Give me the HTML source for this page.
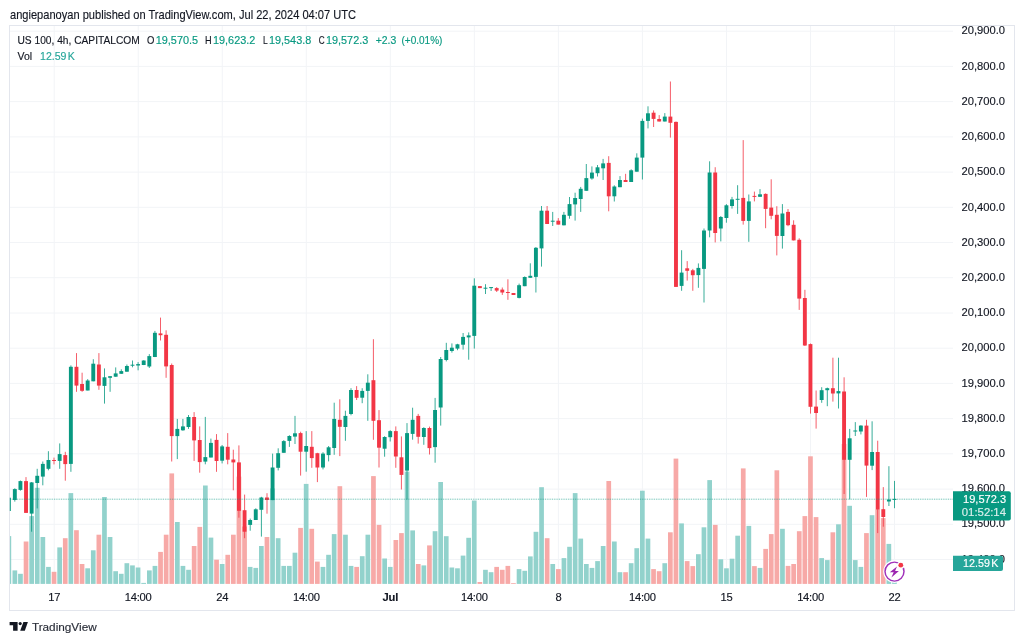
<!DOCTYPE html>
<html lang="en"><head><meta charset="utf-8"><title>US 100 4h chart - TradingView</title>
<style>html,body{margin:0;padding:0;background:#fff}body{width:1024px;height:643px;overflow:hidden}svg{display:block}text{font-family:"Liberation Sans",sans-serif;color:#131722;fill:currentColor;stroke:currentColor;stroke-width:.15px}.ax{font-size:10.8px}.tm{font-size:11.2px;text-anchor:middle;letter-spacing:-0.25px}.g{color:#089981}.w{color:#fff}.v{color:#26a69a}</style></head><body>
<svg width="1024" height="643" viewBox="0 0 1024 643">
<rect width="1024" height="643" fill="#fff"/>
<text x="10" y="19.1" font-size="12.6px" textLength="346" lengthAdjust="spacingAndGlyphs">angiepanoyan published on TradingView.com, Jul 22, 2024 04:07 UTC</text>
<g stroke="#f2f4f7" stroke-width="1">
<line x1="10" x2="953" y1="31.2" y2="31.2"/>
<line x1="10" x2="953" y1="66.4" y2="66.4"/>
<line x1="10" x2="953" y1="101.6" y2="101.6"/>
<line x1="10" x2="953" y1="136.9" y2="136.9"/>
<line x1="10" x2="953" y1="172.1" y2="172.1"/>
<line x1="10" x2="953" y1="207.3" y2="207.3"/>
<line x1="10" x2="953" y1="242.5" y2="242.5"/>
<line x1="10" x2="953" y1="277.7" y2="277.7"/>
<line x1="10" x2="953" y1="313.0" y2="313.0"/>
<line x1="10" x2="953" y1="348.2" y2="348.2"/>
<line x1="10" x2="953" y1="383.4" y2="383.4"/>
<line x1="10" x2="953" y1="418.6" y2="418.6"/>
<line x1="10" x2="953" y1="453.8" y2="453.8"/>
<line x1="10" x2="953" y1="489.1" y2="489.1"/>
<line x1="10" x2="953" y1="524.3" y2="524.3"/>
<line x1="10" x2="953" y1="559.5" y2="559.5"/>
<line x1="54.20" x2="54.20" y1="26" y2="584"/>
<line x1="138.23" x2="138.23" y1="26" y2="584"/>
<line x1="222.26" x2="222.26" y1="26" y2="584"/>
<line x1="306.29" x2="306.29" y1="26" y2="584"/>
<line x1="390.32" x2="390.32" y1="26" y2="584"/>
<line x1="474.35" x2="474.35" y1="26" y2="584"/>
<line x1="558.38" x2="558.38" y1="26" y2="584"/>
<line x1="642.41" x2="642.41" y1="26" y2="584"/>
<line x1="726.44" x2="726.44" y1="26" y2="584"/>
<line x1="810.47" x2="810.47" y1="26" y2="584"/>
<line x1="894.50" x2="894.50" y1="26" y2="584"/>
</g>
<rect x="9.5" y="25.5" width="1005" height="585" fill="none" stroke="#e3e6ed" stroke-width="1"/>
<g>
<rect x="10" y="536.1" width="1.2" height="47.8" fill="#92d2cc"/>
<rect x="12.5" y="570.4" width="4.7" height="13.5" fill="#92d2cc"/>
<rect x="18.1" y="573.8" width="4.7" height="10.1" fill="#92d2cc"/>
<rect x="23.7" y="541.5" width="4.7" height="42.4" fill="#f7a9a7"/>
<rect x="29.3" y="516.1" width="4.7" height="67.8" fill="#92d2cc"/>
<rect x="34.9" y="487.8" width="4.7" height="96.1" fill="#92d2cc"/>
<rect x="40.5" y="537.0" width="4.7" height="46.9" fill="#92d2cc"/>
<rect x="46.1" y="566.9" width="4.7" height="17.0" fill="#92d2cc"/>
<rect x="51.7" y="571.8" width="4.7" height="12.1" fill="#f7a9a7"/>
<rect x="57.3" y="547.4" width="4.7" height="36.5" fill="#92d2cc"/>
<rect x="62.9" y="538.2" width="4.7" height="45.7" fill="#f7a9a7"/>
<rect x="68.5" y="493.1" width="4.7" height="90.8" fill="#92d2cc"/>
<rect x="74.1" y="530.2" width="4.7" height="53.7" fill="#f7a9a7"/>
<rect x="79.7" y="564.0" width="4.7" height="19.9" fill="#f7a9a7"/>
<rect x="85.3" y="568.3" width="4.7" height="15.6" fill="#92d2cc"/>
<rect x="90.9" y="550.3" width="4.7" height="33.6" fill="#92d2cc"/>
<rect x="96.5" y="534.7" width="4.7" height="49.2" fill="#f7a9a7"/>
<rect x="102.1" y="497.0" width="4.7" height="86.9" fill="#92d2cc"/>
<rect x="107.7" y="537.0" width="4.7" height="46.9" fill="#92d2cc"/>
<rect x="113.3" y="571.2" width="4.7" height="12.7" fill="#92d2cc"/>
<rect x="118.9" y="573.8" width="4.7" height="10.1" fill="#92d2cc"/>
<rect x="124.5" y="563.2" width="4.7" height="20.7" fill="#92d2cc"/>
<rect x="130.1" y="565.4" width="4.7" height="18.5" fill="#92d2cc"/>
<rect x="135.7" y="567.5" width="4.7" height="16.4" fill="#92d2cc"/>
<rect x="141.3" y="582.9" width="4.7" height="1.0" fill="#92d2cc"/>
<rect x="147.0" y="570.4" width="4.7" height="13.5" fill="#92d2cc"/>
<rect x="152.6" y="565.9" width="4.7" height="18.0" fill="#92d2cc"/>
<rect x="158.2" y="551.9" width="4.7" height="32.0" fill="#f7a9a7"/>
<rect x="163.8" y="534.7" width="4.7" height="49.2" fill="#f7a9a7"/>
<rect x="169.4" y="473.4" width="4.7" height="110.5" fill="#f7a9a7"/>
<rect x="175.0" y="522.0" width="4.7" height="61.9" fill="#92d2cc"/>
<rect x="180.6" y="565.9" width="4.7" height="18.0" fill="#92d2cc"/>
<rect x="186.2" y="569.8" width="4.7" height="14.1" fill="#92d2cc"/>
<rect x="191.8" y="546.0" width="4.7" height="37.9" fill="#f7a9a7"/>
<rect x="197.4" y="526.9" width="4.7" height="57.0" fill="#f7a9a7"/>
<rect x="203.0" y="485.5" width="4.7" height="98.4" fill="#92d2cc"/>
<rect x="208.6" y="537.6" width="4.7" height="46.3" fill="#92d2cc"/>
<rect x="214.2" y="559.7" width="4.7" height="24.2" fill="#f7a9a7"/>
<rect x="219.8" y="564.0" width="4.7" height="19.9" fill="#92d2cc"/>
<rect x="225.4" y="554.8" width="4.7" height="29.1" fill="#f7a9a7"/>
<rect x="231.0" y="534.7" width="4.7" height="49.2" fill="#f7a9a7"/>
<rect x="236.6" y="476.6" width="4.7" height="107.3" fill="#f7a9a7"/>
<rect x="242.2" y="526.5" width="4.7" height="57.4" fill="#f7a9a7"/>
<rect x="247.8" y="566.9" width="4.7" height="17.0" fill="#92d2cc"/>
<rect x="253.4" y="567.9" width="4.7" height="16.0" fill="#92d2cc"/>
<rect x="259.0" y="546.0" width="4.7" height="37.9" fill="#92d2cc"/>
<rect x="264.6" y="537.0" width="4.7" height="46.9" fill="#f7a9a7"/>
<rect x="270.2" y="488.4" width="4.7" height="95.5" fill="#92d2cc"/>
<rect x="275.8" y="538.2" width="4.7" height="45.7" fill="#92d2cc"/>
<rect x="281.4" y="565.9" width="4.7" height="18.0" fill="#92d2cc"/>
<rect x="287.0" y="565.9" width="4.7" height="18.0" fill="#92d2cc"/>
<rect x="292.6" y="552.7" width="4.7" height="31.2" fill="#92d2cc"/>
<rect x="298.2" y="527.9" width="4.7" height="56.0" fill="#f7a9a7"/>
<rect x="303.8" y="483.9" width="4.7" height="100.0" fill="#92d2cc"/>
<rect x="309.4" y="528.8" width="4.7" height="55.1" fill="#f7a9a7"/>
<rect x="315.0" y="561.6" width="4.7" height="22.3" fill="#f7a9a7"/>
<rect x="320.6" y="566.9" width="4.7" height="17.0" fill="#92d2cc"/>
<rect x="326.2" y="554.8" width="4.7" height="29.1" fill="#92d2cc"/>
<rect x="331.8" y="534.1" width="4.7" height="49.8" fill="#92d2cc"/>
<rect x="337.5" y="486.2" width="4.7" height="97.6" fill="#f7a9a7"/>
<rect x="343.1" y="534.7" width="4.7" height="49.2" fill="#92d2cc"/>
<rect x="348.7" y="565.9" width="4.7" height="18.0" fill="#92d2cc"/>
<rect x="354.3" y="566.9" width="4.7" height="17.0" fill="#f7a9a7"/>
<rect x="359.9" y="556.2" width="4.7" height="27.7" fill="#92d2cc"/>
<rect x="365.5" y="534.7" width="4.7" height="49.2" fill="#92d2cc"/>
<rect x="371.1" y="476.1" width="4.7" height="107.8" fill="#f7a9a7"/>
<rect x="376.7" y="524.9" width="4.7" height="59.0" fill="#f7a9a7"/>
<rect x="382.3" y="558.5" width="4.7" height="25.4" fill="#92d2cc"/>
<rect x="387.9" y="566.9" width="4.7" height="17.0" fill="#92d2cc"/>
<rect x="393.5" y="540.0" width="4.7" height="43.9" fill="#f7a9a7"/>
<rect x="399.1" y="533.1" width="4.7" height="50.8" fill="#f7a9a7"/>
<rect x="404.7" y="471.6" width="4.7" height="112.3" fill="#92d2cc"/>
<rect x="410.3" y="530.4" width="4.7" height="53.5" fill="#92d2cc"/>
<rect x="415.9" y="564.0" width="4.7" height="19.9" fill="#f7a9a7"/>
<rect x="421.5" y="565.4" width="4.7" height="18.5" fill="#92d2cc"/>
<rect x="427.1" y="545.4" width="4.7" height="38.5" fill="#f7a9a7"/>
<rect x="432.7" y="531.2" width="4.7" height="52.7" fill="#92d2cc"/>
<rect x="438.3" y="482.0" width="4.7" height="101.9" fill="#92d2cc"/>
<rect x="443.9" y="536.2" width="4.7" height="47.6" fill="#92d2cc"/>
<rect x="449.5" y="567.5" width="4.7" height="16.4" fill="#92d2cc"/>
<rect x="455.1" y="568.3" width="4.7" height="15.6" fill="#92d2cc"/>
<rect x="460.7" y="555.6" width="4.7" height="28.3" fill="#92d2cc"/>
<rect x="466.3" y="537.8" width="4.7" height="46.1" fill="#92d2cc"/>
<rect x="471.9" y="500.5" width="4.7" height="83.4" fill="#92d2cc"/>
<rect x="477.5" y="582.0" width="4.7" height="1.9" fill="#f7a9a7"/>
<rect x="483.1" y="569.8" width="4.7" height="14.1" fill="#92d2cc"/>
<rect x="488.7" y="572.2" width="4.7" height="11.7" fill="#92d2cc"/>
<rect x="494.3" y="566.9" width="4.7" height="17.0" fill="#f7a9a7"/>
<rect x="499.9" y="569.8" width="4.7" height="14.1" fill="#f7a9a7"/>
<rect x="505.5" y="565.9" width="4.7" height="18.0" fill="#f7a9a7"/>
<rect x="511.1" y="583.1" width="4.7" height="0.8" fill="#f7a9a7"/>
<rect x="516.7" y="569.1" width="4.7" height="14.8" fill="#92d2cc"/>
<rect x="522.4" y="570.8" width="4.7" height="13.1" fill="#92d2cc"/>
<rect x="528.0" y="556.4" width="4.7" height="27.5" fill="#92d2cc"/>
<rect x="533.6" y="531.8" width="4.7" height="52.1" fill="#92d2cc"/>
<rect x="539.2" y="487.2" width="4.7" height="96.7" fill="#92d2cc"/>
<rect x="544.8" y="538.2" width="4.7" height="45.7" fill="#f7a9a7"/>
<rect x="550.4" y="564.0" width="4.7" height="19.9" fill="#92d2cc"/>
<rect x="556.0" y="569.1" width="4.7" height="14.8" fill="#f7a9a7"/>
<rect x="561.6" y="558.1" width="4.7" height="25.8" fill="#92d2cc"/>
<rect x="567.2" y="546.8" width="4.7" height="37.1" fill="#92d2cc"/>
<rect x="572.8" y="493.1" width="4.7" height="90.8" fill="#92d2cc"/>
<rect x="578.4" y="538.6" width="4.7" height="45.3" fill="#92d2cc"/>
<rect x="584.0" y="564.0" width="4.7" height="19.9" fill="#92d2cc"/>
<rect x="589.6" y="567.9" width="4.7" height="16.0" fill="#92d2cc"/>
<rect x="595.2" y="561.1" width="4.7" height="22.8" fill="#92d2cc"/>
<rect x="600.8" y="546.0" width="4.7" height="37.9" fill="#92d2cc"/>
<rect x="606.4" y="481.0" width="4.7" height="102.9" fill="#f7a9a7"/>
<rect x="612.0" y="541.5" width="4.7" height="42.4" fill="#92d2cc"/>
<rect x="617.6" y="572.2" width="4.7" height="11.7" fill="#92d2cc"/>
<rect x="623.2" y="572.2" width="4.7" height="11.7" fill="#f7a9a7"/>
<rect x="628.8" y="563.2" width="4.7" height="20.7" fill="#92d2cc"/>
<rect x="634.4" y="548.2" width="4.7" height="35.7" fill="#92d2cc"/>
<rect x="640.0" y="490.7" width="4.7" height="93.2" fill="#92d2cc"/>
<rect x="645.6" y="538.6" width="4.7" height="45.3" fill="#92d2cc"/>
<rect x="651.2" y="569.1" width="4.7" height="14.8" fill="#f7a9a7"/>
<rect x="656.8" y="571.2" width="4.7" height="12.7" fill="#f7a9a7"/>
<rect x="662.4" y="563.2" width="4.7" height="20.7" fill="#92d2cc"/>
<rect x="668.0" y="532.3" width="4.7" height="51.6" fill="#f7a9a7"/>
<rect x="673.6" y="458.6" width="4.7" height="125.3" fill="#f7a9a7"/>
<rect x="679.2" y="523.4" width="4.7" height="60.5" fill="#92d2cc"/>
<rect x="684.8" y="561.1" width="4.7" height="22.8" fill="#f7a9a7"/>
<rect x="690.4" y="566.1" width="4.7" height="17.8" fill="#f7a9a7"/>
<rect x="696.0" y="554.2" width="4.7" height="29.7" fill="#92d2cc"/>
<rect x="701.6" y="527.3" width="4.7" height="56.6" fill="#92d2cc"/>
<rect x="707.3" y="480.1" width="4.7" height="103.8" fill="#92d2cc"/>
<rect x="712.9" y="524.9" width="4.7" height="59.0" fill="#f7a9a7"/>
<rect x="718.5" y="559.3" width="4.7" height="24.6" fill="#92d2cc"/>
<rect x="724.1" y="568.3" width="4.7" height="15.6" fill="#92d2cc"/>
<rect x="729.7" y="558.7" width="4.7" height="25.2" fill="#92d2cc"/>
<rect x="735.3" y="535.7" width="4.7" height="48.2" fill="#92d2cc"/>
<rect x="740.9" y="468.4" width="4.7" height="115.5" fill="#f7a9a7"/>
<rect x="746.5" y="525.9" width="4.7" height="58.0" fill="#92d2cc"/>
<rect x="752.1" y="566.1" width="4.7" height="17.8" fill="#f7a9a7"/>
<rect x="757.7" y="567.9" width="4.7" height="16.0" fill="#92d2cc"/>
<rect x="763.3" y="548.9" width="4.7" height="35.0" fill="#f7a9a7"/>
<rect x="768.9" y="534.1" width="4.7" height="49.8" fill="#f7a9a7"/>
<rect x="774.5" y="470.3" width="4.7" height="113.6" fill="#f7a9a7"/>
<rect x="780.1" y="528.8" width="4.7" height="55.1" fill="#92d2cc"/>
<rect x="785.7" y="565.9" width="4.7" height="18.0" fill="#f7a9a7"/>
<rect x="791.3" y="564.0" width="4.7" height="19.9" fill="#f7a9a7"/>
<rect x="796.9" y="531.2" width="4.7" height="52.7" fill="#f7a9a7"/>
<rect x="802.5" y="516.1" width="4.7" height="67.8" fill="#f7a9a7"/>
<rect x="808.1" y="456.3" width="4.7" height="127.6" fill="#f7a9a7"/>
<rect x="813.7" y="517.1" width="4.7" height="66.8" fill="#f7a9a7"/>
<rect x="819.3" y="558.1" width="4.7" height="25.8" fill="#92d2cc"/>
<rect x="824.9" y="560.1" width="4.7" height="23.8" fill="#92d2cc"/>
<rect x="830.5" y="532.3" width="4.7" height="51.6" fill="#f7a9a7"/>
<rect x="836.1" y="524.3" width="4.7" height="59.6" fill="#92d2cc"/>
<rect x="841.7" y="444.0" width="4.7" height="139.9" fill="#f7a9a7"/>
<rect x="847.3" y="505.8" width="4.7" height="78.1" fill="#92d2cc"/>
<rect x="852.9" y="560.1" width="4.7" height="23.8" fill="#92d2cc"/>
<rect x="858.5" y="566.9" width="4.7" height="17.0" fill="#92d2cc"/>
<rect x="864.1" y="533.1" width="4.7" height="50.8" fill="#f7a9a7"/>
<rect x="869.7" y="515.2" width="4.7" height="68.7" fill="#92d2cc"/>
<rect x="875.3" y="509.5" width="4.7" height="74.4" fill="#f7a9a7"/>
<rect x="880.9" y="518.1" width="4.7" height="65.8" fill="#f7a9a7"/>
<rect x="886.5" y="543.9" width="4.7" height="40.0" fill="#92d2cc"/>
<rect x="892.1" y="581.6" width="4.7" height="2.3" fill="#92d2cc"/>
</g>
<g>
<rect x="9.8" y="497.7" width="1" height="13.3" fill="#089981"/>
<rect x="14.3" y="488.3" width="1" height="13.3" fill="#089981" opacity="0.8"/>
<rect x="12.88" y="489.1" width="3.9" height="10.9" fill="#089981"/>
<rect x="19.9" y="480.5" width="1" height="10.2" fill="#089981" opacity="0.8"/>
<rect x="18.48" y="481.1" width="3.9" height="8.8" fill="#089981"/>
<rect x="25.5" y="477.1" width="1" height="35.7" fill="#f23645" opacity="0.8"/>
<rect x="24.08" y="481.1" width="3.9" height="31.8" fill="#f23645"/>
<rect x="31.1" y="482.0" width="1" height="49.7" fill="#089981" opacity="0.8"/>
<rect x="29.69" y="482.4" width="3.9" height="31.2" fill="#089981"/>
<rect x="36.7" y="468.8" width="1" height="39.6" fill="#089981" opacity="0.8"/>
<rect x="35.29" y="475.8" width="3.9" height="7.2" fill="#089981"/>
<rect x="42.3" y="461.5" width="1" height="23.8" fill="#089981" opacity="0.8"/>
<rect x="40.89" y="463.9" width="3.9" height="12.7" fill="#089981"/>
<rect x="47.9" y="451.2" width="1" height="19.1" fill="#089981" opacity="0.8"/>
<rect x="46.50" y="460.0" width="3.9" height="8.8" fill="#089981"/>
<rect x="53.5" y="457.6" width="1" height="6.8" fill="#f23645" opacity="0.8"/>
<rect x="52.10" y="460.0" width="3.9" height="1.0" fill="#f23645"/>
<rect x="59.2" y="443.4" width="1" height="25.4" fill="#089981" opacity="0.8"/>
<rect x="57.70" y="454.1" width="3.9" height="6.8" fill="#089981"/>
<rect x="64.8" y="451.8" width="1" height="28.9" fill="#f23645" opacity="0.8"/>
<rect x="63.31" y="455.1" width="3.9" height="9.0" fill="#f23645"/>
<rect x="70.4" y="365.4" width="1" height="106.4" fill="#089981" opacity="0.8"/>
<rect x="68.91" y="366.8" width="3.9" height="97.1" fill="#089981"/>
<rect x="76.0" y="353.1" width="1" height="38.7" fill="#f23645" opacity="0.8"/>
<rect x="74.51" y="366.8" width="3.9" height="18.8" fill="#f23645"/>
<rect x="81.6" y="372.7" width="1" height="19.1" fill="#f23645" opacity="0.8"/>
<rect x="80.11" y="384.0" width="3.9" height="6.8" fill="#f23645"/>
<rect x="87.2" y="379.1" width="1" height="11.3" fill="#089981" opacity="0.8"/>
<rect x="85.72" y="380.5" width="3.9" height="10.0" fill="#089981"/>
<rect x="92.8" y="359.2" width="1" height="22.1" fill="#089981" opacity="0.8"/>
<rect x="91.32" y="363.7" width="3.9" height="17.6" fill="#089981"/>
<rect x="98.4" y="353.1" width="1" height="36.7" fill="#f23645" opacity="0.8"/>
<rect x="96.92" y="364.5" width="3.9" height="21.1" fill="#f23645"/>
<rect x="104.0" y="368.4" width="1" height="35.2" fill="#089981" opacity="0.8"/>
<rect x="102.53" y="377.3" width="3.9" height="8.6" fill="#089981"/>
<rect x="109.6" y="376.2" width="1" height="15.6" fill="#089981" opacity="0.8"/>
<rect x="108.13" y="376.2" width="3.9" height="1.6" fill="#089981"/>
<rect x="115.2" y="367.4" width="1" height="9.4" fill="#089981" opacity="0.8"/>
<rect x="113.73" y="373.4" width="3.9" height="3.3" fill="#089981"/>
<rect x="120.8" y="369.3" width="1" height="4.5" fill="#089981" opacity="0.8"/>
<rect x="119.34" y="371.1" width="3.9" height="2.7" fill="#089981"/>
<rect x="126.4" y="364.5" width="1" height="7.2" fill="#089981" opacity="0.8"/>
<rect x="124.94" y="366.0" width="3.9" height="5.7" fill="#089981"/>
<rect x="132.0" y="360.5" width="1" height="6.8" fill="#089981" opacity="0.8"/>
<rect x="130.54" y="364.7" width="3.9" height="1.0" fill="#089981"/>
<rect x="137.6" y="362.1" width="1" height="8.2" fill="#089981" opacity="0.8"/>
<rect x="136.15" y="364.1" width="3.9" height="1.4" fill="#089981"/>
<rect x="143.2" y="360.2" width="1" height="4.9" fill="#089981" opacity="0.8"/>
<rect x="141.75" y="360.5" width="3.9" height="4.5" fill="#089981"/>
<rect x="148.8" y="354.1" width="1" height="13.9" fill="#089981" opacity="0.8"/>
<rect x="147.35" y="356.1" width="3.9" height="10.4" fill="#089981"/>
<rect x="154.4" y="330.9" width="1" height="26.2" fill="#089981" opacity="0.8"/>
<rect x="152.95" y="332.8" width="3.9" height="24.2" fill="#089981"/>
<rect x="160.0" y="317.6" width="1" height="22.9" fill="#f23645" opacity="0.8"/>
<rect x="158.56" y="333.4" width="3.9" height="1.8" fill="#f23645"/>
<rect x="165.6" y="330.3" width="1" height="47.5" fill="#f23645" opacity="0.8"/>
<rect x="164.16" y="334.8" width="3.9" height="31.6" fill="#f23645"/>
<rect x="171.2" y="363.5" width="1" height="98.0" fill="#f23645" opacity="0.8"/>
<rect x="169.76" y="365.0" width="3.9" height="71.1" fill="#f23645"/>
<rect x="176.8" y="418.9" width="1" height="40.2" fill="#089981" opacity="0.8"/>
<rect x="175.37" y="428.9" width="3.9" height="7.2" fill="#089981"/>
<rect x="182.4" y="418.9" width="1" height="11.9" fill="#089981" opacity="0.8"/>
<rect x="180.97" y="426.4" width="3.9" height="3.9" fill="#089981"/>
<rect x="188.0" y="415.0" width="1" height="13.9" fill="#089981" opacity="0.8"/>
<rect x="186.57" y="417.0" width="3.9" height="10.0" fill="#089981"/>
<rect x="193.6" y="412.1" width="1" height="48.8" fill="#f23645" opacity="0.8"/>
<rect x="192.18" y="417.0" width="3.9" height="23.4" fill="#f23645"/>
<rect x="199.2" y="426.4" width="1" height="46.3" fill="#f23645" opacity="0.8"/>
<rect x="197.78" y="440.0" width="3.9" height="22.1" fill="#f23645"/>
<rect x="204.8" y="416.9" width="1" height="47.4" fill="#089981" opacity="0.8"/>
<rect x="203.38" y="457.1" width="3.9" height="4.5" fill="#089981"/>
<rect x="210.4" y="438.6" width="1" height="18.9" fill="#089981" opacity="0.8"/>
<rect x="208.98" y="442.9" width="3.9" height="14.6" fill="#089981"/>
<rect x="216.0" y="434.1" width="1" height="37.7" fill="#f23645" opacity="0.8"/>
<rect x="214.59" y="439.9" width="3.9" height="21.1" fill="#f23645"/>
<rect x="221.6" y="445.0" width="1" height="18.4" fill="#089981" opacity="0.8"/>
<rect x="220.19" y="446.4" width="3.9" height="14.3" fill="#089981"/>
<rect x="227.2" y="433.1" width="1" height="31.2" fill="#f23645" opacity="0.8"/>
<rect x="225.79" y="446.8" width="3.9" height="12.9" fill="#f23645"/>
<rect x="232.8" y="449.7" width="1" height="40.6" fill="#f23645" opacity="0.8"/>
<rect x="231.40" y="459.5" width="3.9" height="2.9" fill="#f23645"/>
<rect x="238.4" y="445.4" width="1" height="72.3" fill="#f23645" opacity="0.8"/>
<rect x="237.00" y="462.4" width="3.9" height="48.4" fill="#f23645"/>
<rect x="244.1" y="494.6" width="1" height="43.6" fill="#f23645" opacity="0.8"/>
<rect x="242.60" y="510.2" width="3.9" height="21.5" fill="#f23645"/>
<rect x="249.7" y="518.6" width="1" height="12.1" fill="#089981" opacity="0.8"/>
<rect x="248.20" y="520.0" width="3.9" height="4.9" fill="#089981"/>
<rect x="255.3" y="508.3" width="1" height="11.7" fill="#089981" opacity="0.8"/>
<rect x="253.81" y="509.3" width="3.9" height="10.7" fill="#089981"/>
<rect x="260.9" y="496.8" width="1" height="39.8" fill="#089981" opacity="0.8"/>
<rect x="259.41" y="497.5" width="3.9" height="12.3" fill="#089981"/>
<rect x="266.5" y="493.2" width="1" height="20.5" fill="#f23645" opacity="0.8"/>
<rect x="265.01" y="497.5" width="3.9" height="2.5" fill="#f23645"/>
<rect x="272.1" y="453.6" width="1" height="46.5" fill="#089981" opacity="0.8"/>
<rect x="270.62" y="467.5" width="3.9" height="32.6" fill="#089981"/>
<rect x="277.7" y="448.3" width="1" height="22.1" fill="#089981" opacity="0.8"/>
<rect x="276.22" y="453.2" width="3.9" height="14.6" fill="#089981"/>
<rect x="283.3" y="440.1" width="1" height="12.7" fill="#089981" opacity="0.8"/>
<rect x="281.82" y="441.1" width="3.9" height="11.7" fill="#089981"/>
<rect x="288.9" y="435.2" width="1" height="11.7" fill="#089981" opacity="0.8"/>
<rect x="287.43" y="436.0" width="3.9" height="4.9" fill="#089981"/>
<rect x="294.5" y="415.9" width="1" height="28.1" fill="#089981" opacity="0.8"/>
<rect x="293.03" y="433.3" width="3.9" height="3.3" fill="#089981"/>
<rect x="300.1" y="431.7" width="1" height="43.9" fill="#f23645" opacity="0.8"/>
<rect x="298.63" y="433.1" width="3.9" height="18.6" fill="#f23645"/>
<rect x="305.7" y="431.1" width="1" height="40.6" fill="#089981" opacity="0.8"/>
<rect x="304.24" y="446.0" width="3.9" height="5.7" fill="#089981"/>
<rect x="311.3" y="431.1" width="1" height="36.7" fill="#f23645" opacity="0.8"/>
<rect x="309.84" y="446.8" width="3.9" height="11.3" fill="#f23645"/>
<rect x="316.9" y="452.8" width="1" height="29.3" fill="#f23645" opacity="0.8"/>
<rect x="315.44" y="453.2" width="3.9" height="14.3" fill="#f23645"/>
<rect x="322.5" y="452.2" width="1" height="17.2" fill="#089981" opacity="0.8"/>
<rect x="321.04" y="453.6" width="3.9" height="13.9" fill="#089981"/>
<rect x="328.1" y="446.0" width="1" height="15.4" fill="#089981" opacity="0.8"/>
<rect x="326.65" y="447.3" width="3.9" height="7.8" fill="#089981"/>
<rect x="333.7" y="402.7" width="1" height="52.1" fill="#089981" opacity="0.8"/>
<rect x="332.25" y="418.9" width="3.9" height="29.1" fill="#089981"/>
<rect x="339.3" y="399.3" width="1" height="56.8" fill="#f23645" opacity="0.8"/>
<rect x="337.85" y="419.8" width="3.9" height="7.0" fill="#f23645"/>
<rect x="344.9" y="410.7" width="1" height="30.1" fill="#089981" opacity="0.8"/>
<rect x="343.46" y="415.9" width="3.9" height="11.1" fill="#089981"/>
<rect x="350.5" y="388.2" width="1" height="27.1" fill="#089981" opacity="0.8"/>
<rect x="349.06" y="390.0" width="3.9" height="24.0" fill="#089981"/>
<rect x="356.1" y="386.1" width="1" height="13.9" fill="#f23645" opacity="0.8"/>
<rect x="354.66" y="390.0" width="3.9" height="7.8" fill="#f23645"/>
<rect x="361.7" y="388.2" width="1" height="15.0" fill="#089981" opacity="0.8"/>
<rect x="360.26" y="390.9" width="3.9" height="6.8" fill="#089981"/>
<rect x="367.3" y="374.3" width="1" height="46.5" fill="#089981" opacity="0.8"/>
<rect x="365.87" y="382.7" width="3.9" height="8.2" fill="#089981"/>
<rect x="372.9" y="339.2" width="1" height="100.6" fill="#f23645" opacity="0.8"/>
<rect x="371.47" y="380.2" width="3.9" height="40.6" fill="#f23645"/>
<rect x="378.5" y="410.1" width="1" height="57.4" fill="#f23645" opacity="0.8"/>
<rect x="377.07" y="420.2" width="3.9" height="27.5" fill="#f23645"/>
<rect x="384.1" y="436.2" width="1" height="20.5" fill="#089981" opacity="0.8"/>
<rect x="382.68" y="437.0" width="3.9" height="11.7" fill="#089981"/>
<rect x="389.7" y="430.2" width="1" height="11.3" fill="#089981" opacity="0.8"/>
<rect x="388.28" y="431.1" width="3.9" height="6.1" fill="#089981"/>
<rect x="395.3" y="426.4" width="1" height="41.4" fill="#f23645" opacity="0.8"/>
<rect x="393.88" y="431.1" width="3.9" height="25.4" fill="#f23645"/>
<rect x="400.9" y="436.4" width="1" height="53.1" fill="#f23645" opacity="0.8"/>
<rect x="399.49" y="457.3" width="3.9" height="17.6" fill="#f23645"/>
<rect x="406.5" y="423.1" width="1" height="76.4" fill="#089981" opacity="0.8"/>
<rect x="405.09" y="433.1" width="3.9" height="37.5" fill="#089981"/>
<rect x="412.1" y="407.7" width="1" height="32.0" fill="#089981" opacity="0.8"/>
<rect x="410.69" y="419.8" width="3.9" height="14.1" fill="#089981"/>
<rect x="417.7" y="413.9" width="1" height="29.7" fill="#f23645" opacity="0.8"/>
<rect x="416.30" y="415.9" width="3.9" height="20.9" fill="#f23645"/>
<rect x="423.3" y="427.2" width="1" height="17.6" fill="#089981" opacity="0.8"/>
<rect x="421.90" y="428.0" width="3.9" height="9.0" fill="#089981"/>
<rect x="429.0" y="426.6" width="1" height="27.9" fill="#f23645" opacity="0.8"/>
<rect x="427.50" y="428.0" width="3.9" height="20.1" fill="#f23645"/>
<rect x="434.6" y="397.9" width="1" height="64.8" fill="#089981" opacity="0.8"/>
<rect x="433.10" y="410.0" width="3.9" height="37.1" fill="#089981"/>
<rect x="440.2" y="357.0" width="1" height="68.6" fill="#089981" opacity="0.8"/>
<rect x="438.71" y="359.0" width="3.9" height="48.5" fill="#089981"/>
<rect x="445.8" y="342.8" width="1" height="18.6" fill="#089981" opacity="0.8"/>
<rect x="444.31" y="350.0" width="3.9" height="10.0" fill="#089981"/>
<rect x="451.4" y="343.4" width="1" height="9.2" fill="#089981" opacity="0.8"/>
<rect x="449.91" y="347.7" width="3.9" height="3.3" fill="#089981"/>
<rect x="457.0" y="343.8" width="1" height="6.4" fill="#089981" opacity="0.8"/>
<rect x="455.52" y="344.3" width="3.9" height="4.3" fill="#089981"/>
<rect x="462.6" y="333.0" width="1" height="16.6" fill="#089981" opacity="0.8"/>
<rect x="461.12" y="336.9" width="3.9" height="7.8" fill="#089981"/>
<rect x="468.2" y="332.4" width="1" height="27.3" fill="#089981" opacity="0.8"/>
<rect x="466.72" y="335.4" width="3.9" height="2.0" fill="#089981"/>
<rect x="473.8" y="278.3" width="1" height="70.3" fill="#089981" opacity="0.8"/>
<rect x="472.32" y="285.7" width="3.9" height="50.2" fill="#089981"/>
<rect x="479.4" y="286.1" width="1" height="2.0" fill="#f23645" opacity="0.8"/>
<rect x="477.93" y="286.1" width="3.9" height="2.0" fill="#f23645"/>
<rect x="485.0" y="284.2" width="1" height="9.8" fill="#089981" opacity="0.8"/>
<rect x="483.53" y="287.7" width="3.9" height="1.0" fill="#089981"/>
<rect x="490.6" y="287.1" width="1" height="3.9" fill="#089981" opacity="0.8"/>
<rect x="489.13" y="287.1" width="3.9" height="1.0" fill="#089981"/>
<rect x="496.2" y="287.1" width="1" height="4.9" fill="#f23645" opacity="0.8"/>
<rect x="494.74" y="288.1" width="3.9" height="2.5" fill="#f23645"/>
<rect x="501.8" y="287.5" width="1" height="7.4" fill="#f23645" opacity="0.8"/>
<rect x="500.34" y="289.6" width="3.9" height="2.9" fill="#f23645"/>
<rect x="507.4" y="279.3" width="1" height="20.5" fill="#f23645" opacity="0.8"/>
<rect x="505.94" y="292.0" width="3.9" height="1.0" fill="#f23645"/>
<rect x="513.0" y="293.0" width="1" height="2.0" fill="#f23645" opacity="0.8"/>
<rect x="511.55" y="293.0" width="3.9" height="2.0" fill="#f23645"/>
<rect x="518.6" y="283.6" width="1" height="14.8" fill="#089981" opacity="0.8"/>
<rect x="517.15" y="285.2" width="3.9" height="12.7" fill="#089981"/>
<rect x="524.2" y="276.4" width="1" height="9.8" fill="#089981" opacity="0.8"/>
<rect x="522.75" y="277.0" width="3.9" height="9.2" fill="#089981"/>
<rect x="529.8" y="263.3" width="1" height="14.5" fill="#089981" opacity="0.8"/>
<rect x="528.35" y="275.8" width="3.9" height="2.0" fill="#089981"/>
<rect x="535.4" y="247.0" width="1" height="45.5" fill="#089981" opacity="0.8"/>
<rect x="533.96" y="247.8" width="3.9" height="29.1" fill="#089981"/>
<rect x="541.0" y="206.0" width="1" height="60.6" fill="#089981" opacity="0.8"/>
<rect x="539.56" y="210.7" width="3.9" height="37.7" fill="#089981"/>
<rect x="546.6" y="206.0" width="1" height="18.0" fill="#f23645" opacity="0.8"/>
<rect x="545.16" y="210.7" width="3.9" height="13.3" fill="#f23645"/>
<rect x="552.2" y="211.9" width="1" height="14.1" fill="#089981" opacity="0.8"/>
<rect x="550.77" y="220.7" width="3.9" height="1.0" fill="#089981"/>
<rect x="557.8" y="218.1" width="1" height="6.4" fill="#f23645" opacity="0.8"/>
<rect x="556.37" y="220.7" width="3.9" height="3.9" fill="#f23645"/>
<rect x="563.4" y="211.9" width="1" height="13.5" fill="#089981" opacity="0.8"/>
<rect x="561.97" y="214.8" width="3.9" height="10.5" fill="#089981"/>
<rect x="569.0" y="197.0" width="1" height="21.7" fill="#089981" opacity="0.8"/>
<rect x="567.58" y="204.1" width="3.9" height="11.7" fill="#089981"/>
<rect x="574.6" y="192.7" width="1" height="27.9" fill="#089981" opacity="0.8"/>
<rect x="573.18" y="198.0" width="3.9" height="6.4" fill="#089981"/>
<rect x="580.2" y="186.9" width="1" height="25.0" fill="#089981" opacity="0.8"/>
<rect x="578.78" y="188.8" width="3.9" height="10.2" fill="#089981"/>
<rect x="585.8" y="164.0" width="1" height="26.8" fill="#089981" opacity="0.8"/>
<rect x="584.38" y="178.1" width="3.9" height="12.7" fill="#089981"/>
<rect x="591.4" y="166.4" width="1" height="13.3" fill="#089981" opacity="0.8"/>
<rect x="589.99" y="172.6" width="3.9" height="5.9" fill="#089981"/>
<rect x="597.0" y="165.0" width="1" height="11.5" fill="#089981" opacity="0.8"/>
<rect x="595.59" y="167.3" width="3.9" height="5.9" fill="#089981"/>
<rect x="602.6" y="158.9" width="1" height="21.1" fill="#089981" opacity="0.8"/>
<rect x="601.19" y="163.4" width="3.9" height="4.9" fill="#089981"/>
<rect x="608.2" y="156.2" width="1" height="55.1" fill="#f23645" opacity="0.8"/>
<rect x="606.80" y="162.9" width="3.9" height="33.4" fill="#f23645"/>
<rect x="613.8" y="185.3" width="1" height="16.2" fill="#089981" opacity="0.8"/>
<rect x="612.40" y="186.5" width="3.9" height="9.8" fill="#089981"/>
<rect x="619.5" y="176.1" width="1" height="11.1" fill="#089981" opacity="0.8"/>
<rect x="618.00" y="180.0" width="3.9" height="7.2" fill="#089981"/>
<rect x="625.1" y="173.8" width="1" height="8.2" fill="#f23645" opacity="0.8"/>
<rect x="623.61" y="180.0" width="3.9" height="2.0" fill="#f23645"/>
<rect x="630.7" y="169.3" width="1" height="12.7" fill="#089981" opacity="0.8"/>
<rect x="629.21" y="170.3" width="3.9" height="11.7" fill="#089981"/>
<rect x="636.3" y="153.3" width="1" height="18.4" fill="#089981" opacity="0.8"/>
<rect x="634.81" y="157.6" width="3.9" height="14.1" fill="#089981"/>
<rect x="641.9" y="118.6" width="1" height="60.9" fill="#089981" opacity="0.8"/>
<rect x="640.41" y="120.9" width="3.9" height="36.7" fill="#089981"/>
<rect x="647.5" y="106.3" width="1" height="22.1" fill="#089981" opacity="0.8"/>
<rect x="646.02" y="113.3" width="3.9" height="7.6" fill="#089981"/>
<rect x="653.1" y="110.4" width="1" height="16.6" fill="#f23645" opacity="0.8"/>
<rect x="651.62" y="112.7" width="3.9" height="6.2" fill="#f23645"/>
<rect x="658.7" y="115.1" width="1" height="6.4" fill="#f23645" opacity="0.8"/>
<rect x="657.22" y="119.0" width="3.9" height="2.5" fill="#f23645"/>
<rect x="664.3" y="113.1" width="1" height="8.4" fill="#089981" opacity="0.8"/>
<rect x="662.83" y="116.6" width="3.9" height="4.9" fill="#089981"/>
<rect x="669.9" y="81.5" width="1" height="56.1" fill="#f23645" opacity="0.8"/>
<rect x="668.43" y="116.6" width="3.9" height="6.2" fill="#f23645"/>
<rect x="675.5" y="121.5" width="1" height="165.4" fill="#f23645" opacity="0.8"/>
<rect x="674.03" y="121.9" width="3.9" height="165.0" fill="#f23645"/>
<rect x="681.1" y="250.2" width="1" height="40.6" fill="#089981" opacity="0.8"/>
<rect x="679.64" y="272.6" width="3.9" height="13.3" fill="#089981"/>
<rect x="686.7" y="261.1" width="1" height="19.5" fill="#f23645" opacity="0.8"/>
<rect x="685.24" y="268.3" width="3.9" height="2.5" fill="#f23645"/>
<rect x="692.3" y="268.9" width="1" height="21.9" fill="#f23645" opacity="0.8"/>
<rect x="690.84" y="270.3" width="3.9" height="4.9" fill="#f23645"/>
<rect x="697.9" y="263.4" width="1" height="24.4" fill="#089981" opacity="0.8"/>
<rect x="696.44" y="267.9" width="3.9" height="7.2" fill="#089981"/>
<rect x="703.5" y="228.5" width="1" height="74.0" fill="#089981" opacity="0.8"/>
<rect x="702.05" y="230.5" width="3.9" height="38.4" fill="#089981"/>
<rect x="709.1" y="161.3" width="1" height="76.0" fill="#089981" opacity="0.8"/>
<rect x="707.65" y="172.5" width="3.9" height="58.0" fill="#089981"/>
<rect x="714.7" y="167.2" width="1" height="75.2" fill="#f23645" opacity="0.8"/>
<rect x="713.25" y="172.5" width="3.9" height="60.5" fill="#f23645"/>
<rect x="720.3" y="216.0" width="1" height="25.4" fill="#089981" opacity="0.8"/>
<rect x="718.86" y="217.0" width="3.9" height="11.5" fill="#089981"/>
<rect x="725.9" y="204.1" width="1" height="18.6" fill="#089981" opacity="0.8"/>
<rect x="724.46" y="205.3" width="3.9" height="12.7" fill="#089981"/>
<rect x="731.5" y="196.9" width="1" height="11.7" fill="#089981" opacity="0.8"/>
<rect x="730.06" y="199.4" width="3.9" height="6.6" fill="#089981"/>
<rect x="737.1" y="185.2" width="1" height="28.7" fill="#089981" opacity="0.8"/>
<rect x="735.67" y="198.8" width="3.9" height="1.0" fill="#089981"/>
<rect x="742.7" y="140.1" width="1" height="84.5" fill="#f23645" opacity="0.8"/>
<rect x="741.27" y="197.9" width="3.9" height="23.0" fill="#f23645"/>
<rect x="748.3" y="194.5" width="1" height="47.3" fill="#089981" opacity="0.8"/>
<rect x="746.87" y="201.4" width="3.9" height="19.5" fill="#089981"/>
<rect x="753.9" y="191.6" width="1" height="9.8" fill="#f23645" opacity="0.8"/>
<rect x="752.47" y="195.9" width="3.9" height="1.0" fill="#f23645"/>
<rect x="759.5" y="189.1" width="1" height="7.8" fill="#089981" opacity="0.8"/>
<rect x="758.08" y="194.3" width="3.9" height="2.5" fill="#089981"/>
<rect x="765.1" y="193.4" width="1" height="34.8" fill="#f23645" opacity="0.8"/>
<rect x="763.68" y="193.9" width="3.9" height="15.0" fill="#f23645"/>
<rect x="770.7" y="179.3" width="1" height="40.0" fill="#f23645" opacity="0.8"/>
<rect x="769.28" y="207.6" width="3.9" height="8.2" fill="#f23645"/>
<rect x="776.3" y="206.2" width="1" height="49.2" fill="#f23645" opacity="0.8"/>
<rect x="774.89" y="214.8" width="3.9" height="21.1" fill="#f23645"/>
<rect x="781.9" y="204.1" width="1" height="44.5" fill="#089981" opacity="0.8"/>
<rect x="780.49" y="213.5" width="3.9" height="22.5" fill="#089981"/>
<rect x="787.5" y="209.0" width="1" height="17.2" fill="#f23645" opacity="0.8"/>
<rect x="786.09" y="211.9" width="3.9" height="13.3" fill="#f23645"/>
<rect x="793.1" y="220.3" width="1" height="20.1" fill="#f23645" opacity="0.8"/>
<rect x="791.70" y="224.8" width="3.9" height="15.6" fill="#f23645"/>
<rect x="798.7" y="238.3" width="1" height="71.6" fill="#f23645" opacity="0.8"/>
<rect x="797.30" y="239.8" width="3.9" height="58.8" fill="#f23645"/>
<rect x="804.4" y="289.8" width="1" height="56.2" fill="#f23645" opacity="0.8"/>
<rect x="802.90" y="298.0" width="3.9" height="47.5" fill="#f23645"/>
<rect x="810.0" y="343.5" width="1" height="70.1" fill="#f23645" opacity="0.8"/>
<rect x="808.50" y="344.1" width="3.9" height="62.7" fill="#f23645"/>
<rect x="815.6" y="390.5" width="1" height="38.1" fill="#f23645" opacity="0.8"/>
<rect x="814.11" y="406.6" width="3.9" height="6.4" fill="#f23645"/>
<rect x="821.2" y="387.2" width="1" height="15.6" fill="#089981" opacity="0.8"/>
<rect x="819.71" y="390.2" width="3.9" height="9.8" fill="#089981"/>
<rect x="826.8" y="387.6" width="1" height="18.6" fill="#089981" opacity="0.8"/>
<rect x="825.31" y="388.2" width="3.9" height="2.0" fill="#089981"/>
<rect x="832.4" y="357.7" width="1" height="43.9" fill="#f23645" opacity="0.8"/>
<rect x="830.92" y="388.2" width="3.9" height="5.3" fill="#f23645"/>
<rect x="838.0" y="357.7" width="1" height="50.8" fill="#089981" opacity="0.8"/>
<rect x="836.52" y="391.1" width="3.9" height="2.3" fill="#089981"/>
<rect x="843.6" y="377.3" width="1" height="116.7" fill="#f23645" opacity="0.8"/>
<rect x="842.12" y="391.5" width="3.9" height="68.3" fill="#f23645"/>
<rect x="849.2" y="428.9" width="1" height="70.5" fill="#089981" opacity="0.8"/>
<rect x="847.73" y="438.3" width="3.9" height="21.5" fill="#089981"/>
<rect x="854.8" y="422.1" width="1" height="13.9" fill="#089981" opacity="0.8"/>
<rect x="853.33" y="430.5" width="3.9" height="1.0" fill="#089981"/>
<rect x="860.4" y="425.2" width="1" height="9.2" fill="#089981" opacity="0.8"/>
<rect x="858.93" y="425.6" width="3.9" height="5.9" fill="#089981"/>
<rect x="866.0" y="419.8" width="1" height="77.1" fill="#f23645" opacity="0.8"/>
<rect x="864.53" y="425.6" width="3.9" height="40.0" fill="#f23645"/>
<rect x="871.6" y="421.3" width="1" height="48.8" fill="#089981" opacity="0.8"/>
<rect x="870.14" y="452.0" width="3.9" height="13.7" fill="#089981"/>
<rect x="877.2" y="440.7" width="1" height="92.4" fill="#f23645" opacity="0.8"/>
<rect x="875.74" y="452.0" width="3.9" height="57.6" fill="#f23645"/>
<rect x="882.8" y="487.1" width="1" height="39.6" fill="#f23645" opacity="0.8"/>
<rect x="881.34" y="509.2" width="3.9" height="7.8" fill="#f23645"/>
<rect x="888.4" y="466.2" width="1" height="39.8" fill="#089981" opacity="0.8"/>
<rect x="886.95" y="499.5" width="3.9" height="2.0" fill="#089981"/>
<rect x="894.0" y="480.9" width="1" height="27.3" fill="#089981" opacity="0.8"/>
<rect x="892.55" y="498.9" width="3.9" height="1.0" fill="#089981"/>
</g>
<line x1="10" x2="953" y1="499.2" y2="499.2" stroke="#089981" stroke-width="0.9" stroke-dasharray="0.9 0.86" opacity="0.7"/>
<text class="ax" x="961.5" y="34.4" textLength="43.6" lengthAdjust="spacingAndGlyphs">20,900.0</text>
<text class="ax" x="961.5" y="69.6" textLength="43.6" lengthAdjust="spacingAndGlyphs">20,800.0</text>
<text class="ax" x="961.5" y="104.8" textLength="43.6" lengthAdjust="spacingAndGlyphs">20,700.0</text>
<text class="ax" x="961.5" y="140.1" textLength="43.6" lengthAdjust="spacingAndGlyphs">20,600.0</text>
<text class="ax" x="961.5" y="175.3" textLength="43.6" lengthAdjust="spacingAndGlyphs">20,500.0</text>
<text class="ax" x="961.5" y="210.5" textLength="43.6" lengthAdjust="spacingAndGlyphs">20,400.0</text>
<text class="ax" x="961.5" y="245.7" textLength="43.6" lengthAdjust="spacingAndGlyphs">20,300.0</text>
<text class="ax" x="961.5" y="280.9" textLength="43.6" lengthAdjust="spacingAndGlyphs">20,200.0</text>
<text class="ax" x="961.5" y="316.2" textLength="43.6" lengthAdjust="spacingAndGlyphs">20,100.0</text>
<text class="ax" x="961.5" y="351.4" textLength="43.6" lengthAdjust="spacingAndGlyphs">20,000.0</text>
<text class="ax" x="961.5" y="386.6" textLength="43.6" lengthAdjust="spacingAndGlyphs">19,900.0</text>
<text class="ax" x="961.5" y="421.8" textLength="43.6" lengthAdjust="spacingAndGlyphs">19,800.0</text>
<text class="ax" x="961.5" y="457.0" textLength="43.6" lengthAdjust="spacingAndGlyphs">19,700.0</text>
<text class="ax" x="961.5" y="492.3" textLength="43.6" lengthAdjust="spacingAndGlyphs">19,600.0</text>
<text class="ax" x="961.5" y="526.6" textLength="43.6" lengthAdjust="spacingAndGlyphs">19,500.0</text>
<text class="ax" x="961.5" y="562.7" textLength="43.6" lengthAdjust="spacingAndGlyphs">19,400.0</text>
<path d="M953 491.2h55.8a2 2 0 0 1 2 2v25.3a2 2 0 0 1-2 2H953z" fill="#089981"/>
<text class="ax w" x="963" y="502.9" textLength="43.1" lengthAdjust="spacingAndGlyphs">19,572.3</text>
<text class="ax w" x="961.8" y="515.8" textLength="44.2" lengthAdjust="spacingAndGlyphs" opacity="0.85">01:52:14</text>
<path d="M953 555.7h48a2 2 0 0 1 2 2v11.3a2 2 0 0 1-2 2H953z" fill="#26a69a"/>
<text class="ax w" x="963" y="567.1" textLength="35.3" lengthAdjust="spacingAndGlyphs">12.59<tspan dx="1.3">K</tspan></text>
<text class="tm" x="54.2" y="601.3">17</text>
<text class="tm" x="138.2" y="601.3">14:00</text>
<text class="tm" x="222.3" y="601.3">24</text>
<text class="tm" x="306.3" y="601.3">14:00</text>
<text class="tm" x="390.3" y="601.3" font-weight="bold">Jul</text>
<text class="tm" x="474.3" y="601.3">14:00</text>
<text class="tm" x="558.4" y="601.3">8</text>
<text class="tm" x="642.4" y="601.3">14:00</text>
<text class="tm" x="726.4" y="601.3">15</text>
<text class="tm" x="810.5" y="601.3">14:00</text>
<text class="tm" x="894.5" y="601.3">22</text>
<text class="ax" x="17.5" y="43.8" textLength="122.2" lengthAdjust="spacingAndGlyphs">US 100, 4h, CAPITALCOM</text>
<text class="ax" x="147.1" y="43.8" textLength="7.4" lengthAdjust="spacingAndGlyphs">O</text>
<text class="ax g" x="155.7" y="43.8" textLength="42.4" lengthAdjust="spacingAndGlyphs">19,570.5</text>
<text class="ax" x="204.9" y="43.8" textLength="6.6" lengthAdjust="spacingAndGlyphs">H</text>
<text class="ax g" x="213" y="43.8" textLength="42.3" lengthAdjust="spacingAndGlyphs">19,623.2</text>
<text class="ax" x="263.1" y="43.8" textLength="4.7" lengthAdjust="spacingAndGlyphs">L</text>
<text class="ax g" x="269" y="43.8" textLength="42.2" lengthAdjust="spacingAndGlyphs">19,543.8</text>
<text class="ax" x="318.8" y="43.8" textLength="5.9" lengthAdjust="spacingAndGlyphs">C</text>
<text class="ax g" x="326" y="43.8" textLength="42.2" lengthAdjust="spacingAndGlyphs">19,572.3</text>
<text class="ax g" x="375.7" y="43.8" textLength="20.6" lengthAdjust="spacingAndGlyphs">+2.3</text>
<text class="ax g" x="401.5" y="43.8" textLength="40.9" lengthAdjust="spacingAndGlyphs">(+0.01%)</text>
<text class="ax" x="17.5" y="59.5" textLength="14.6" lengthAdjust="spacingAndGlyphs">Vol</text>
<text class="ax v" x="40" y="59.5" textLength="34.8" lengthAdjust="spacingAndGlyphs">12.59<tspan dx="1.3">K</tspan></text>
<g>
<circle cx="894.5" cy="571.6" r="11.3" fill="#fff"/>
<circle cx="894.5" cy="571.6" r="9.5" fill="#fff" stroke="#a030ba" stroke-width="1.45"/>
<path d="M897 566.6L889.8 572.3H893.7L891.4 577.4L898.9 570.9H895.1z" fill="#9c27b0"/>
<circle cx="900.8" cy="565.2" r="3.6" fill="#fff"/>
<circle cx="900.8" cy="565.2" r="2.4" fill="#f23645"/>
</g>
<g fill="#131722">
<path d="M9.6 622h8v8.8h-4.5v-5.6h-3.5z"/>
<circle cx="20.2" cy="623.6" r="1.6"/>
<path d="M23.4 622h4.5l-3.1 8.8h-4.6z"/>
</g>
<text x="31.9" y="630.8" font-size="11.6px" textLength="64.8" lengthAdjust="spacingAndGlyphs" style="color:#2a2e39">TradingView</text>
</svg></body></html>
